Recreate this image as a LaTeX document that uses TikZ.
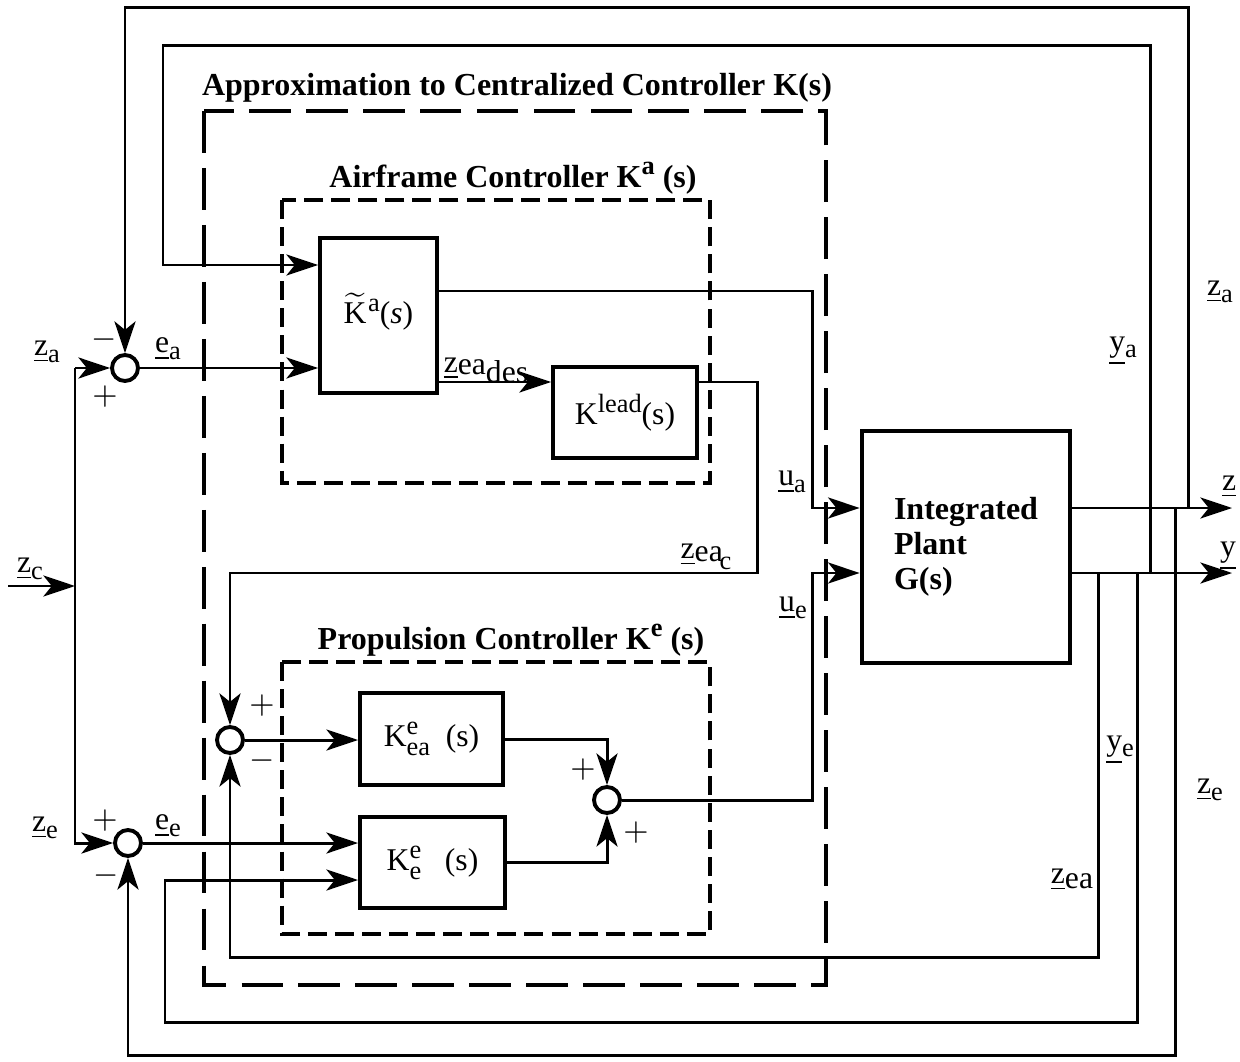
\documentclass[tikz,border=0pt]{standalone}
\usepackage{fontspec}
\setmainfont{Liberation Serif}
\usetikzlibrary{arrows.meta}

% signal name: underlined letter with a lowered index
\newcommand{\sg}[2]{\underline{#1}\raisebox{-0.45ex}{\fontsize{7.5}{8}\selectfont #2}}
% raised and lowered indices on block names
\newcommand{\up}[1]{\raisebox{0.85ex}{\fontsize{7.5}{8}\selectfont #1}}
\newcommand{\dn}[1]{\raisebox{-0.6ex}{\fontsize{7.5}{8}\selectfont #1}}

\begin{document}
\begin{tikzpicture}[
  x=0.01cm, y=-0.01cm,
  every node/.style={font=\fontsize{9}{11}\selectfont},
  wire/.style={line width=0.85pt},
  sig/.style={wire, -{Stealth[length=9pt, width=6pt, inset=2.4pt]}},
  blockbox/.style={draw, line width=1.1pt, inner sep=1pt},
  sumnode/.style={circle, draw, line width=1.1pt, minimum size=0.26cm, inner sep=0pt},
  groupbox/.style={line width=1.2pt, dash pattern=on 5.4pt off 2.3pt},
  outerbox/.style={line width=1.2pt, dash pattern=on 11.9pt off 4.3pt},
  ttl/.style={font=\fontsize{9.1}{10}\selectfont\bfseries},
  sgn/.style={inner sep=0pt},
]

\useasboundingbox (0,0) rectangle (1240,1061);

% ============================================================
% CONTROLLER GROUPS (dashed frames)
% ============================================================
\draw[outerbox] (204,111) rectangle (826,985);
\draw[groupbox] (282,200) rectangle (710,483);
\draw[groupbox] (282,662) rectangle (710,934);

\node[ttl] (ttlK)  at (517,88)  {Approximation to Centralized Controller K(s)};
\node[ttl] (ttlKa) at (513,178) {Airframe Controller K\up{a} (s)};
\node[ttl] (ttlKe) at (511,640) {Propulsion Controller K\up{e} (s)};

% ============================================================
% BLOCKS
% ============================================================
\node[blockbox, minimum width=1.17cm, minimum height=1.55cm]
  (Kta) at (378.5,315.5) {\raisebox{4pt}{$\widetilde{\mathrm{K}}$\kern0.05em\up{a}(\textit{s})}};
\node[blockbox, minimum width=1.44cm, minimum height=0.91cm]
  (Klead) at (625,412.5) {K\up{lead}(s)};
\node[blockbox, minimum width=1.43cm, minimum height=0.92cm]
  (Kea) at (431.5,739) {K\rlap{\up{e}}\dn{ea}\ \ (s)};
\node[blockbox, minimum width=1.45cm, minimum height=0.91cm]
  (Ke) at (432.5,862.5) {K\rlap{\up{e}}\dn{e}\ \ \ (s)};
\node[blockbox, line width=1.3pt, minimum width=2.08cm, minimum height=2.32cm,
      align=left, font=\fontsize{9.1}{10}\selectfont\bfseries]
  (plant) at (966,547) {Integrated\\Plant\\G(s)};

% summing junctions
\node[sumnode] (sa)   at (125,368) {};
\node[sumnode] (se)   at (128,843) {};
\node[sumnode] (sp)   at (230,740) {};
\node[sumnode] (sadd) at (607,800) {};

% taps on the plant outputs and free ends
\coordinate (za)     at (1188,508);
\coordinate (ze)     at (1175,508);
\coordinate (ya)     at (1150,573);
\coordinate (zea)    at (1137,573);
\coordinate (ye)     at (1098,573);
\coordinate (zin)    at (8,586);
\coordinate (zsplit) at (75,586);
\coordinate (splitT) at (75,368);
\coordinate (zout)   at (1232,508);
\coordinate (yout)   at (1232,573);

% ============================================================
% SIGNALS
% ============================================================
% command input
\draw[sig] (zin) -- (zsplit);
\draw[sig] (splitT) -- (sa.west);
\draw[sig] (splitT) |- (se.west);

% airframe path
\draw[sig] (sa.east) -- (sa.east -| Kta.west);
\draw[sig] (Kta.east |- 0,291) -| (812,508) -- (plant.west |- za);
\draw[sig] (Kta.east |- 0,382) -- (Klead.west |- 0,382);
\draw[sig] (Klead.east |- 0,382) -| (757,573) -| (sp.north);

% propulsion path
\draw[sig] (sp.east) -- (sp.east -| Kea.west);
\draw[sig] (se.east) -- (se.east -| Ke.west);
\draw[sig] (Kea.east) -| (sadd.north);
\draw[sig] (Ke.east) -| (sadd.south);
\draw[sig] (sadd.east) -| (812,573) -- (plant.west |- ya);

% plant outputs
\draw[sig] (plant.east |- za) -- (zout);
\draw[sig] (plant.east |- ya) -- (yout);

% feedback loops
\draw[sig] (za) -- (za |- 0,8) -| (sa.north);
\draw[sig] (ya) |- (163,46) |- (Kta.west |- 0,265);
\draw[sig] (ze) |- (se.south |- 0,1055) -- (se.south);
\draw[sig] (ye) |- (sp.south |- 0,957) -- (sp.south);
\draw[sig] (zea) |- (165,1022) |- (Ke.west |- 0,880);

% ============================================================
% LABELS
% ============================================================
\foreach \nm/\x/\y/\txt in {
  lzaL/47/352/{\sg{z}{a}},
  lea/168/349/{\sg{e}{a}},
  lzc/30/569/{\sg{z}{c}},
  lzeL/45/828/{\sg{z}{e}},
  lee/168/826/{\sg{e}{e}},
  lzdes/486/370/{\underline{z}\raisebox{-0.2ex}{ea}\raisebox{-0.7ex}{des}},
  lzc2/706/557/{\underline{z}\raisebox{-0.2ex}{ea}\kern-0.1em\raisebox{-0.8ex}{\fontsize{7.5}{8}\selectfont c}},
  lua/792/482/{\sg{u}{a}},
  lue/793/608/{\sg{u}{e}},
  lz/1229/487/{\underline{z}},
  ly/1228/556/{\underline{y}},
  lzaR/1220/292/{\sg{z}{a}},
  lya/1123/351/{\sg{y}{a}},
  lye/1120/750/{\sg{y}{e}},
  lzeR/1210/790/{\sg{z}{e}},
  lzea/1072/880/{\underline{z}\raisebox{-0.3ex}{ea}}}{
  \node[sgn] (\nm) at (\x,\y) {\txt};
}

% signs at the summing junctions
\foreach \nm/\x/\y/\s in {
  sa1/104/340/-, sa2/105/397/+,
  se1/105/821/+, se2/106/876/-,
  sp1/262/706/+, sp2/262/761/-,
  sd1/583/770/+, sd2/636/833/+}{
  \node[sgn] (\nm) at (\x,\y) {$\s$};
}

\end{tikzpicture}
\end{document}
